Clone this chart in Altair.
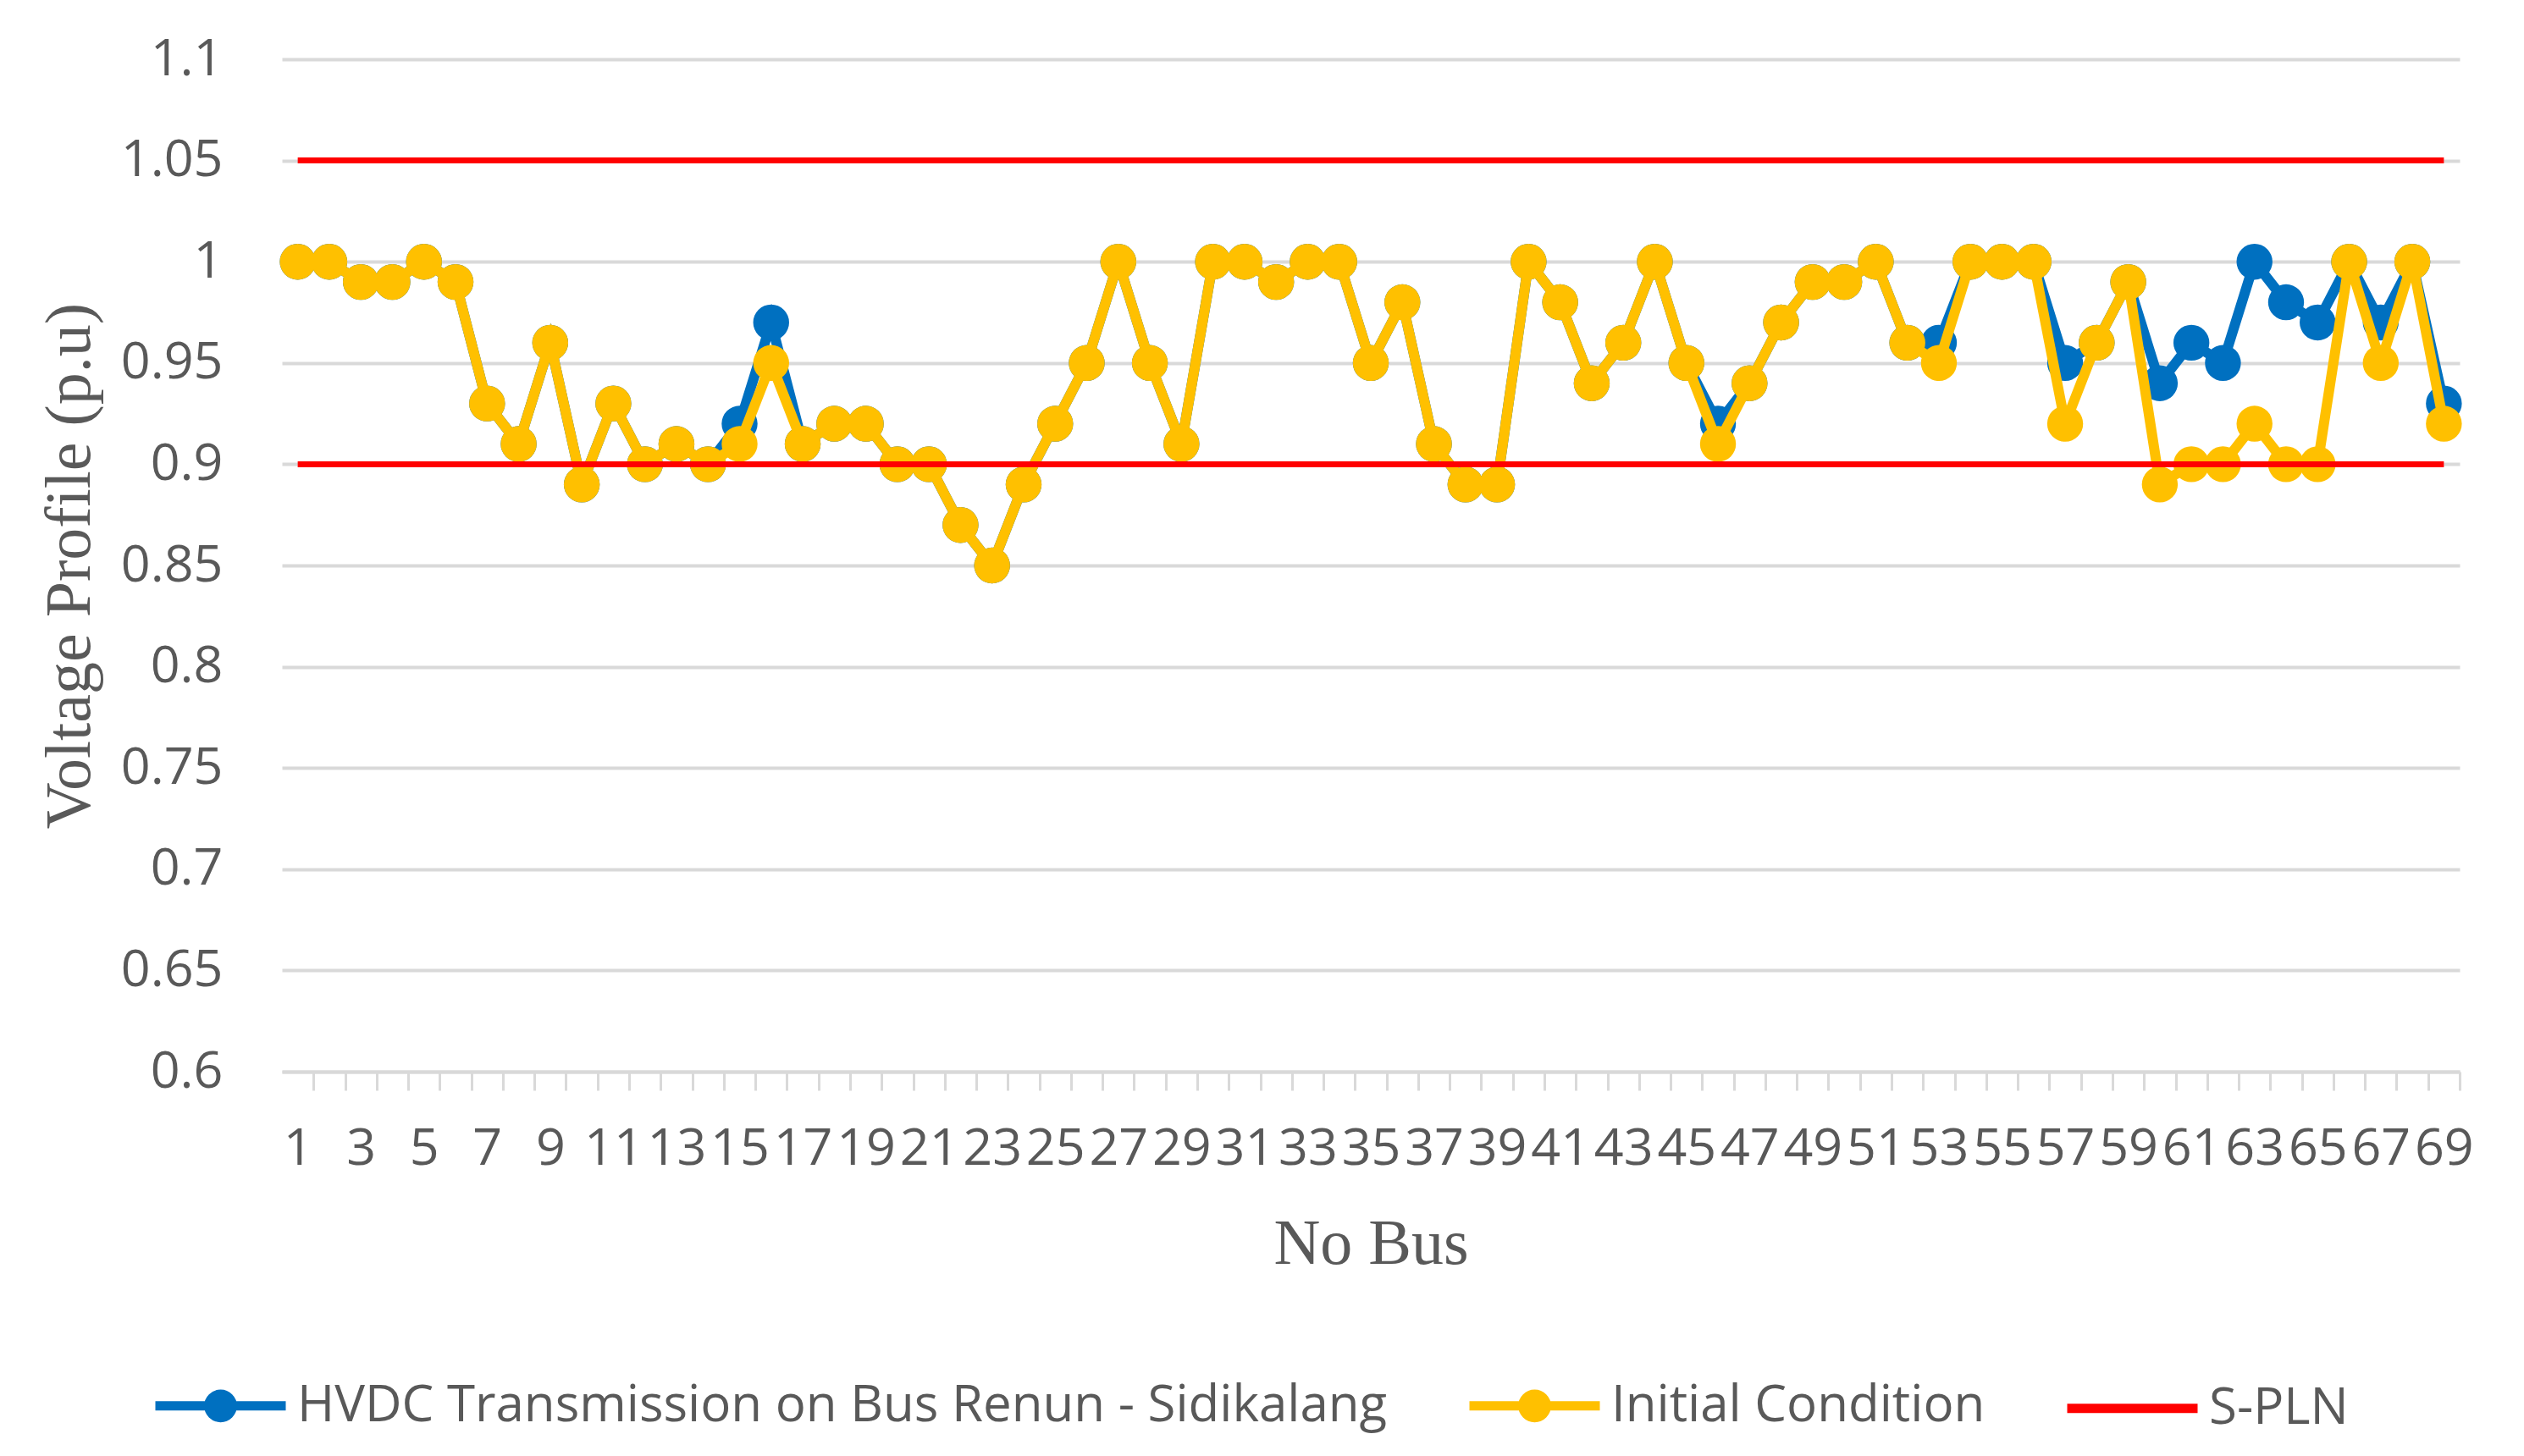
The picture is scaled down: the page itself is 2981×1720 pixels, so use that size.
import altair as alt
import pandas as pd

# ---------------- data ----------------
bus = list(range(1, 70))
hvdc = [1.00, 1.00, 0.99, 0.99, 1.00, 0.99, 0.93, 0.91, 0.96, 0.89,
        0.93, 0.90, 0.91, 0.90, 0.92, 0.97, 0.91, 0.92, 0.92, 0.90,
        0.90, 0.87, 0.85, 0.89, 0.92, 0.95, 1.00, 0.95, 0.91, 1.00,
        1.00, 0.99, 1.00, 1.00, 0.95, 0.98, 0.91, 0.89, 0.89, 1.00,
        0.98, 0.94, 0.96, 1.00, 0.95, 0.92, 0.94, 0.97, 0.99, 0.99,
        1.00, 0.96, 0.96, 1.00, 1.00, 1.00, 0.95, 0.96, 0.99, 0.94,
        0.96, 0.95, 1.00, 0.98, 0.97, 1.00, 0.97, 1.00, 0.93]
initial = [1.00, 1.00, 0.99, 0.99, 1.00, 0.99, 0.93, 0.91, 0.96, 0.89,
           0.93, 0.90, 0.91, 0.90, 0.91, 0.95, 0.91, 0.92, 0.92, 0.90,
           0.90, 0.87, 0.85, 0.89, 0.92, 0.95, 1.00, 0.95, 0.91, 1.00,
           1.00, 0.99, 1.00, 1.00, 0.95, 0.98, 0.91, 0.89, 0.89, 1.00,
           0.98, 0.94, 0.96, 1.00, 0.95, 0.91, 0.94, 0.97, 0.99, 0.99,
           1.00, 0.96, 0.95, 1.00, 1.00, 1.00, 0.92, 0.96, 0.99, 0.89,
           0.90, 0.90, 0.92, 0.90, 0.90, 1.00, 0.95, 1.00, 0.92]
spln_bounds = [0.90, 1.05]
spln_bus = [1, 69]
series_names = ["HVDC Transmission on Bus Renun - Sidikalang", "Initial Condition", "S-PLN"]
series_colors = ["#0070C0", "#FFC000", "#FF0000"]
y_ticks = [0.6, 0.65, 0.7, 0.75, 0.8, 0.85, 0.9, 0.95, 1.0, 1.05, 1.1]
x_ticks = list(range(0, 70))

# ---------------- tables ----------------
rows = []
for b, v in zip(bus, hvdc):
    rows.append({"bus": b, "v": v, "series": series_names[0], "bound": "a"})
for b, v in zip(bus, initial):
    rows.append({"bus": b, "v": v, "series": series_names[1], "bound": "a"})
for lvl in spln_bounds:
    for b in spln_bus:
        rows.append({"bus": b, "v": lvl, "series": series_names[2], "bound": str(lvl)})
df = pd.DataFrame(rows)
# legend-only rows, outside the y domain and clipped away
legend_df = pd.DataFrame({"bus": [1, 1, 1], "v": [3.0, 3.0, 3.0], "series": series_names})

# ---------------- layout ----------------
W, H = 2572, 1196
half = W / 69 / 2
GRAY = "#D9D9D9"
TXT = "#595959"
SYM = 23716
MARK = "M-1,0L1,0M0.18,0A0.18,0.18,0,1,1,-0.18,0A0.18,0.18,0,1,1,0.18,0Z"

x_axis = alt.Axis(
    values=x_ticks, tickOffset=half, labelOffset=-half,
    labelExpr="datum.value % 2 == 1 ? datum.label : ''",
    format="d", grid=False,
    domain=True, domainColor=GRAY, domainWidth=4,
    ticks=True, tickColor=GRAY, tickWidth=3, tickSize=22,
    labelFont="Open Sans", labelFontSize=61, labelColor=TXT,
    labelPadding=87, labelBaseline="alphabetic", labelFlush=False, labelOverlap=False,
    titleFont="Liberation Serif", titleFontSize=76, titleColor=TXT, titleFontWeight="normal",
    titleX=W / 2, titleY=226, titleBaseline="alphabetic", titleAlign="center",
)
y_axis = alt.Axis(
    values=y_ticks, format=".2~f",
    grid=True, gridColor=GRAY, gridWidth=4,
    domain=False, ticks=False, tickSize=0,
    labelFont="Open Sans", labelFontSize=61, labelColor=TXT, labelPadding=70,
    titleFont="Liberation Serif", titleFontSize=76, titleColor=TXT, titleFontWeight="normal",
    titleX=-228, titleY=H / 2, titleAngle=270, titleBaseline="alphabetic", titleAlign="center",
)

X = alt.X("bus:Q", scale=alt.Scale(domain=[0.5, 69.5], nice=False, zero=False), axis=x_axis, title="No Bus")
Y = alt.Y("v:Q", scale=alt.Scale(domain=[0.6, 1.1], nice=False, zero=False), axis=y_axis,
          title="Voltage Profile (p.u)")

base = alt.Chart(df)


def sel(name):
    return base.transform_filter(alt.datum.series == name)


line_h = sel(series_names[0]).mark_line(strokeWidth=12, color=series_colors[0]).encode(x=X, y=Y)
pt_h = sel(series_names[0]).mark_point(filled=True, size=1800, shape="circle", opacity=1,
                                       color=series_colors[0]).encode(x=X, y=Y)
line_i = sel(series_names[1]).mark_line(strokeWidth=12, color=series_colors[1]).encode(x=X, y=Y)
pt_i = sel(series_names[1]).mark_point(filled=True, size=1800, shape="circle", opacity=1,
                                       color=series_colors[1]).encode(x=X, y=Y)
line_s = sel(series_names[2]).mark_line(strokeWidth=7, color=series_colors[2]).encode(x=X, y=Y, detail="bound:N")

leg = alt.Legend(
    title=None, orient="none", legendX=-155, legendY=1508, direction="horizontal",
    symbolSize=SYM, symbolStrokeWidth=11,
    labelFont="Open Sans", labelFontSize=60, labelColor=TXT, labelLimit=3000,
    labelOffset=8, columnPadding=74, padding=0,
)
legend_layer = alt.Chart(legend_df).mark_point(filled=True, size=SYM, strokeWidth=11, opacity=1, clip=True).encode(
    x=X, y=Y,
    fill=alt.Fill("series:N", scale=alt.Scale(domain=series_names, range=series_colors), legend=leg),
    stroke=alt.Stroke("series:N", scale=alt.Scale(domain=series_names, range=series_colors), legend=leg),
    shape=alt.Shape("series:N", scale=alt.Scale(domain=series_names, range=[MARK, MARK, "stroke"]), legend=leg),
)

chart = alt.layer(line_h, pt_h, line_i, pt_i, line_s, legend_layer).properties(
    width=W, height=H,
    autosize=alt.AutoSizeParams(type="none"),
    padding={"left": 325, "top": 62, "right": 68, "bottom": 440},
    background="white",
).configure_view(stroke=None)

chart.save("out.html", embed_options={"renderer": "svg", "actions": False})
